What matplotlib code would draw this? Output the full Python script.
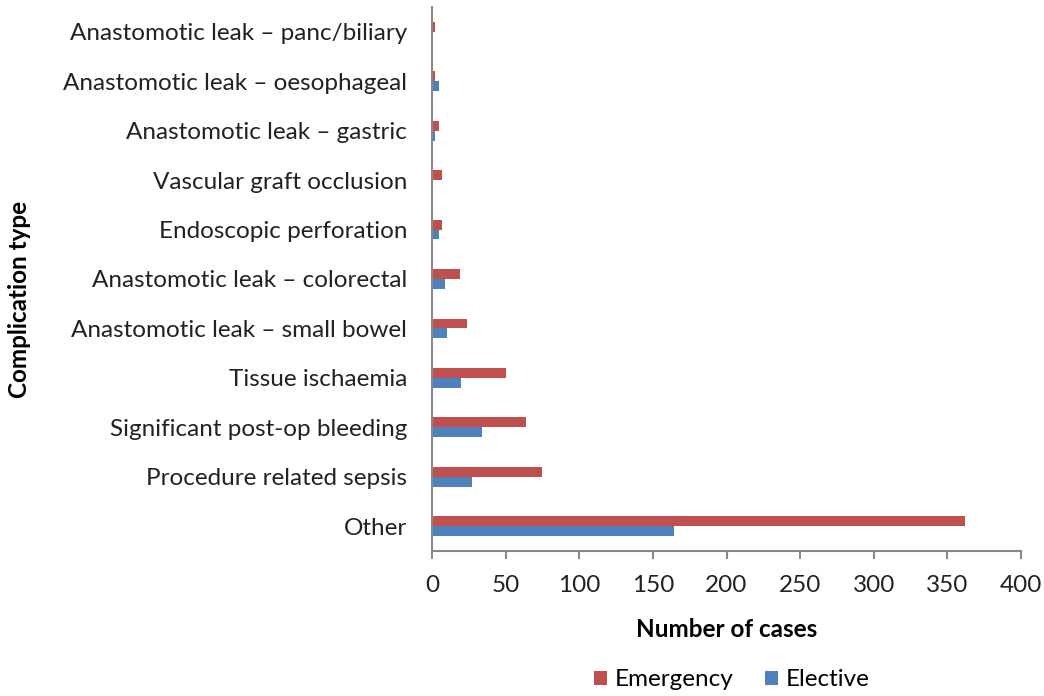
import numpy as np
import matplotlib.pyplot as plt

plt.rcParams["font.family"] = ["Lato", "DejaVu Sans"]

categories = [
    "Other",
    "Procedure related sepsis",
    "Significant post-op bleeding",
    "Tissue ischaemia",
    "Anastomotic leak \u2013 small bowel",
    "Anastomotic leak \u2013 colorectal",
    "Endoscopic perforation",
    "Vascular graft occlusion",
    "Anastomotic leak \u2013 gastric",
    "Anastomotic leak \u2013 oesophageal",
    "Anastomotic leak \u2013 panc/biliary",
]
emergency = [362, 75, 64, 50, 24, 19, 7, 7, 5, 2, 2]
elective = [164, 27, 34, 20, 10, 9, 5, 1, 2, 5, 1]

GREY = "#898989"
FS = 17.5

fig = plt.figure(figsize=(10.44, 6.96), dpi=100)
ax = fig.add_axes([0.4138, 0.2083, 0.5642, 0.7817])

y = np.arange(len(categories))
h = 0.2
ax.barh(y + h / 2, emergency, height=h, color="#C0504D", label="Emergency")
ax.barh(y - h / 2, elective, height=h, color="#4F81BD", label="Elective")

ax.set_yticks(y)
ax.set_yticklabels(categories, fontsize=FS, color="#222222")
ax.set_ylim(-0.5, len(categories) - 0.5)
ax.set_xlim(0, 400)
ax.set_xticks(np.arange(0, 401, 50))
ax.tick_params(axis="x", labelsize=FS, colors=GREY, labelcolor="#222222",
               direction="out", length=6, width=1.5, pad=11)
ax.tick_params(axis="y", length=0, pad=18)

for s in ["top", "right"]:
    ax.spines[s].set_visible(False)
for s in ["left", "bottom"]:
    ax.spines[s].set_color(GREY)
    ax.spines[s].set_linewidth(1.5)

ax.set_xlabel("Number of cases", fontsize=FS, fontweight="bold", labelpad=16)
fig.text(0.019, 0.57, "Complication type", fontsize=FS, fontweight="bold",
         rotation=90, ha="center", va="center")

handles, labels = ax.get_legend_handles_labels()
fig.legend(handles, labels, loc="center", bbox_to_anchor=(0.701, 0.023),
           ncol=2, frameon=False, fontsize=FS, handlelength=0.55,
           handleheight=0.55, columnspacing=1.3, handletextpad=0.3)

fig.savefig("out.png", dpi=100)
